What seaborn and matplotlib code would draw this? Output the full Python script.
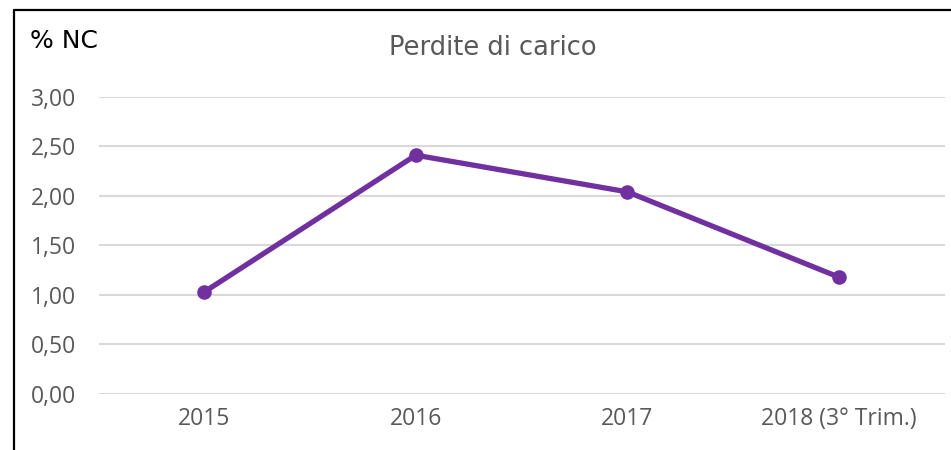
import pandas as pd
import seaborn as sns
import matplotlib.pyplot as plt
from matplotlib.lines import Line2D
from matplotlib.ticker import FuncFormatter

# dati
anni = ["2015", "2016", "2017", "2018 (3° Trim.)"]
perdite = [1.03, 2.41, 2.04, 1.18]
y_ticks = [0, 0.5, 1.0, 1.5, 2.0, 2.5, 3.0]

df = pd.DataFrame({"anno": anni, "perdite": perdite})

sns.set_theme(style="white")
plt.rcParams['font.family'] = ['Open Sans', 'DejaVu Sans']

fig = plt.figure(figsize=(9.51, 4.5), dpi=100)
ax = fig.add_axes([0.1036, 0.1244, 0.8896, 0.6607])

sns.lineplot(x="anno", y="perdite", data=df, ax=ax, sort=False,
             color="#7030A0", linewidth=3.8, marker="o", markersize=10.5,
             markeredgewidth=0)

ax.set_ylim(0, 3)
ax.set_xlim(-0.5, 3.5)
ax.set_yticks(y_ticks)
ax.yaxis.set_major_formatter(FuncFormatter(lambda v, p: f"{v:.2f}".replace(".", ",")))
ax.grid(axis="y", color="#D9D9D9", linewidth=1.5)
ax.set_axisbelow(True)
for s in ax.spines.values():
    s.set_visible(False)
ax.tick_params(axis="y", length=0, pad=16, labelsize=16.5, labelcolor="#595959")
ax.tick_params(axis="x", length=0, pad=9, labelsize=16.5, labelcolor="#595959")
ax.set_xlabel("")
ax.set_ylabel("")

fig.text(0.518, 0.893, "Perdite di carico", ha="center", va="center",
         fontsize=18.5, color="#595959", family="DejaVu Sans")
fig.text(0.032, 0.91, "% NC", ha="left", va="center", fontsize=18,
         color="black", family="DejaVu Sans")

# cornice
fig.add_artist(Line2D([14/951, 14/951], [0, 1 - 10/450], color="black", linewidth=1.6))
fig.add_artist(Line2D([14/951, 1], [1 - 10/450, 1 - 10/450], color="black", linewidth=1.6))

fig.savefig("out.png", dpi=100)
